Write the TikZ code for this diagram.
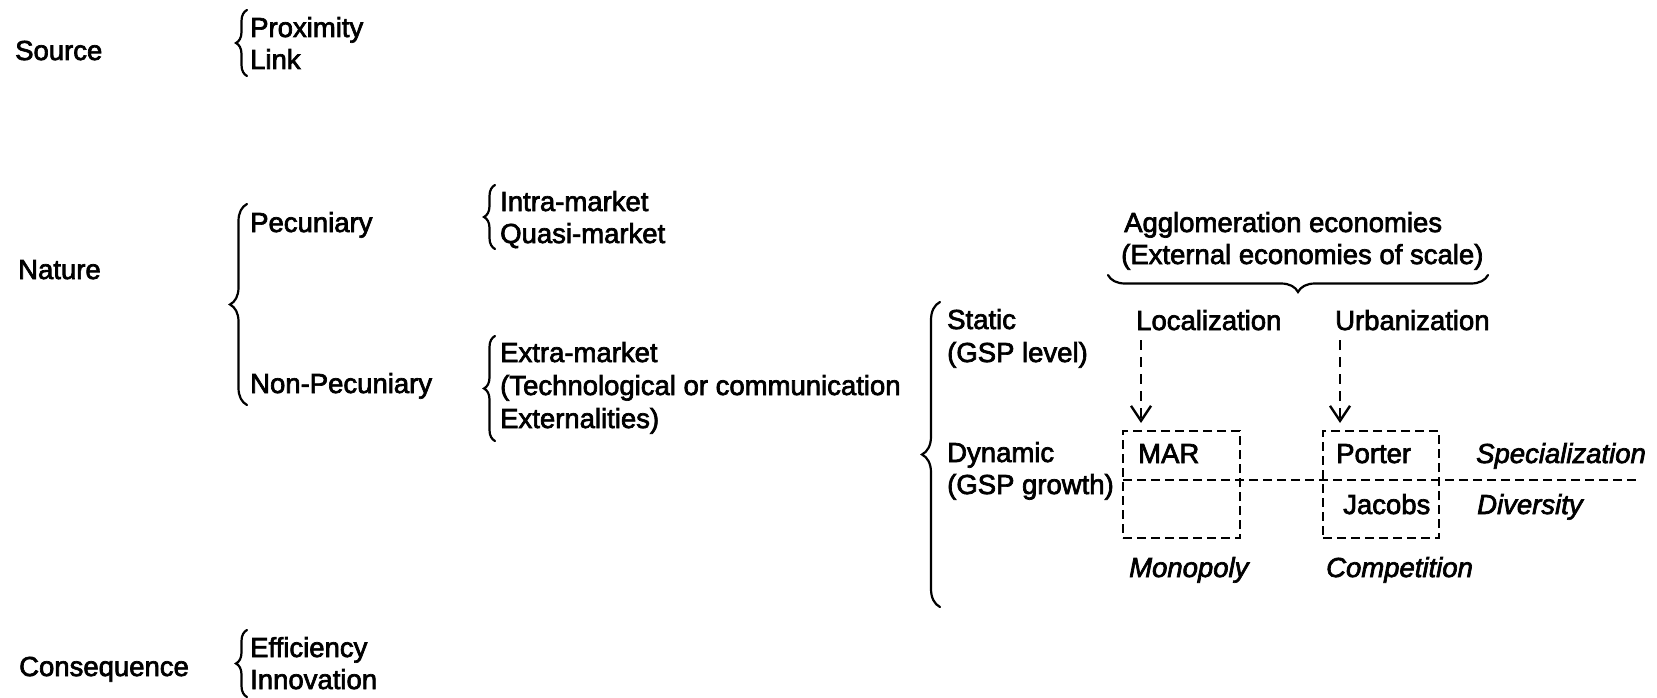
\documentclass[tikz,border=0pt]{standalone}
\usepackage{fontspec}
\setmainfont{Liberation Sans}[FakeBold=2.5]
\usetikzlibrary{decorations.pathreplacing,arrows.meta}
\begin{document}
\begin{tikzpicture}[x=1pt,y=-1pt,
  lbl/.style={anchor=base west,inner sep=0pt,font=\fontsize{27.5}{32}\selectfont},
  itl/.style={lbl,font=\fontsize{27.5}{32}\selectfont\itshape},
  brc/.style={decorate,decoration={brace,amplitude=#1},line width=2.2pt,line cap=round},
  dashln/.style={line width=2.6pt,dash pattern=on 9pt off 5pt},
  dashbox/.style={draw,dashln,minimum height=107pt,inner sep=0pt},
  dasharrow/.style={line width=2.6pt,dash pattern=on 10pt off 7pt,
    -{Straight Barb[length=15pt,width=20pt,line width=2.4pt]}}]
\useasboundingbox (0,0) rectangle (1657,698);

% Source
\node[lbl] (source) at (15,60) {Source};
\node[lbl] (prox) at (250,37) {Proximity};
\node[lbl] (link) at (250,69) {Link};
\draw[brc=11] (247,76) -- (247,10);

% Nature
\node[lbl] (nature) at (18,279) {Nature};
\node[lbl] (pec) at (250,232) {Pecuniary};
\node[lbl] (nonpec) at (250,393) {Non-Pecuniary};
\draw[brc=17] (247,405) -- (247,204);

\node[lbl] (intra) at (500,211) {Intra-market};
\node[lbl] (quasi) at (500,243) {Quasi-market};
\draw[brc=11] (495,249) -- (495,185);

\node[lbl] (extra) at (500,362) {Extra-market};
\node[lbl] (techno) at (500,395) {(Technological or communication};
\node[lbl] (extern) at (500,428) {Externalities)};
\draw[brc=11] (495,441) -- (495,336);

% Static / dynamic
\node[lbl] (static) at (947,329) {Static};
\node[lbl] (gsplev) at (947,362) {(GSP level)};
\node[lbl] (dynamic) at (947,462) {Dynamic};
\node[lbl] (gspgro) at (947,494) {(GSP growth)};
\draw[brc=18] (940,607) -- (940,302);

% Agglomeration economies
\node[lbl] (agglo) at (1124,232) {Agglomeration economies};
\node[lbl] (extsc) at (1121,264) {(External economies of scale)};
\draw[brc=17] (1488,275) -- (1108,275);

\node[lbl] (loc) at (1136,330) {Localization};
\node[lbl] (urb) at (1335,330) {Urbanization};

% Boxes
\node[dashbox,minimum width=117pt] (marbox) at (1181.5,484.5) {};
\node[dashbox,minimum width=116pt] (porterbox) at (1381,484.5) {};
\coordinate (divL) at (1123,480);
\coordinate (divR) at (1638,480);
\draw[dashln] (divL) -- (divR);

\coordinate (locA) at (1141,340);
\coordinate (locB) at (1141,423);
\coordinate (urbA) at (1340,340);
\coordinate (urbB) at (1340,423);
\draw[dasharrow] (locA) -- (locB);
\draw[dasharrow] (urbA) -- (urbB);

\node[lbl] (mar) at (1138,463) {MAR};
\node[lbl] (porter) at (1336,463) {Porter};
\node[lbl] (jacobs) at (1343,514) {Jacobs};
\node[itl] (spec) at (1476,463) {Specialization};
\node[itl] (div) at (1477,514) {Diversity};
\node[itl] (mono) at (1129,577) {Monopoly};
\node[itl] (comp) at (1326,577) {Competition};

% Consequence
\node[lbl] (conseq) at (19,676) {Consequence};
\node[lbl] (eff) at (250,657) {Efficiency};
\node[lbl] (innov) at (250,689) {Innovation};
\draw[brc=11] (247,697) -- (247,630);
\end{tikzpicture}
\end{document}
